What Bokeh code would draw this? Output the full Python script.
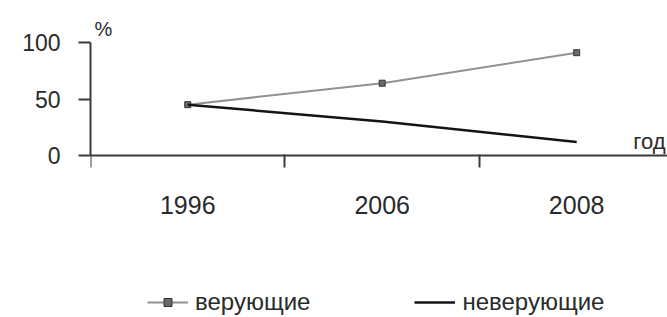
from bokeh.plotting import figure
from bokeh.models import (FixedTicker, Range1d, Legend, LegendItem, Label,
                          ColumnDataSource)
from bokeh.embed import file_html
from bokeh.resources import INLINE

years = ["1996", "2006", "2008"]
believers = [45, 64, 91]
nonbelievers = [45, 30, 12]
y_ticks = [0, 50, 100]
x_positions = [0, 1, 2]
x_boundaries = [-0.5, 0.5, 1.5]

FONT = "Liberation Sans"
AX = "#3a3a3a"
TXT = "#2a2a2a"

X_END = 2.467
src = ColumnDataSource(dict(x=x_positions, b=believers, n=nonbelievers))

p = figure(width=667, height=317, output_backend="svg", toolbar_location=None,
           x_range=Range1d(-0.5, X_END), y_range=Range1d(-143.4, 137.2),
           min_border_left=90, min_border_right=0, min_border_top=0,
           min_border_bottom=0)
p.outline_line_color = None
p.grid.visible = False
p.background_fill_color = "white"

lb = p.line("x", "b", source=src, line_color="#929292", line_width=2)
sb = p.scatter("x", "b", source=src, marker="square", size=6,
               fill_color="#6a6a6a", line_color="#333333", line_width=1)
ln = p.line("x", "n", source=src, line_color="#141414", line_width=2.5)

# x axis
xa = p.xaxis[0]
xa.fixed_location = 0
xa.ticker = FixedTicker(ticks=x_positions, minor_ticks=x_boundaries)
xa.major_label_overrides = {i: y for i, y in zip(x_positions, years)}
xa.axis_line_color = AX
xa.axis_line_width = 2
xa.major_tick_out = 0
xa.major_tick_in = 0
xa.minor_tick_out = 12
xa.minor_tick_in = 1
xa.minor_tick_line_color = AX
xa.minor_tick_line_width = 2
xa.major_label_standoff = 29
xa.major_label_text_font = FONT
xa.major_label_text_font_size = "25px"
xa.major_label_text_color = TXT

# y axis
ya = p.yaxis[0]
ya.bounds = (0, 100)
ya.ticker = FixedTicker(ticks=y_ticks, minor_ticks=[])
ya.axis_line_color = AX
ya.axis_line_width = 2
ya.major_tick_out = 12
ya.major_tick_in = 0
ya.major_tick_line_color = AX
ya.major_tick_line_width = 2
ya.major_label_standoff = 18
ya.major_label_text_font = FONT
ya.major_label_text_font_size = "23px"
ya.major_label_text_color = TXT

p.add_layout(Label(x=-0.5, y=100, x_offset=4, y_offset=3, text="%",
                   text_font=FONT, text_font_size="20px", text_color=TXT,
                   text_baseline="bottom", text_align="left"))
p.add_layout(Label(x=X_END, y=0, x_offset=-2, y_offset=14, text="год",
                   text_font=FONT, text_font_size="22px", text_color=TXT,
                   text_baseline="alphabetic", text_align="right"))

legend = Legend(items=[LegendItem(label="верующие", renderers=[lb, sb]),
                       LegendItem(label="неверующие", renderers=[ln])],
                orientation="horizontal", location=(57, 1),
                label_text_font=FONT, label_text_font_size="24px",
                label_text_color=TXT, glyph_width=41, glyph_height=20,
                label_standoff=7, spacing=104, padding=0, margin=0,
                border_line_color=None, background_fill_alpha=0)
p.add_layout(legend, "center")

open("out.html", "w").write(file_html(p, INLINE))
